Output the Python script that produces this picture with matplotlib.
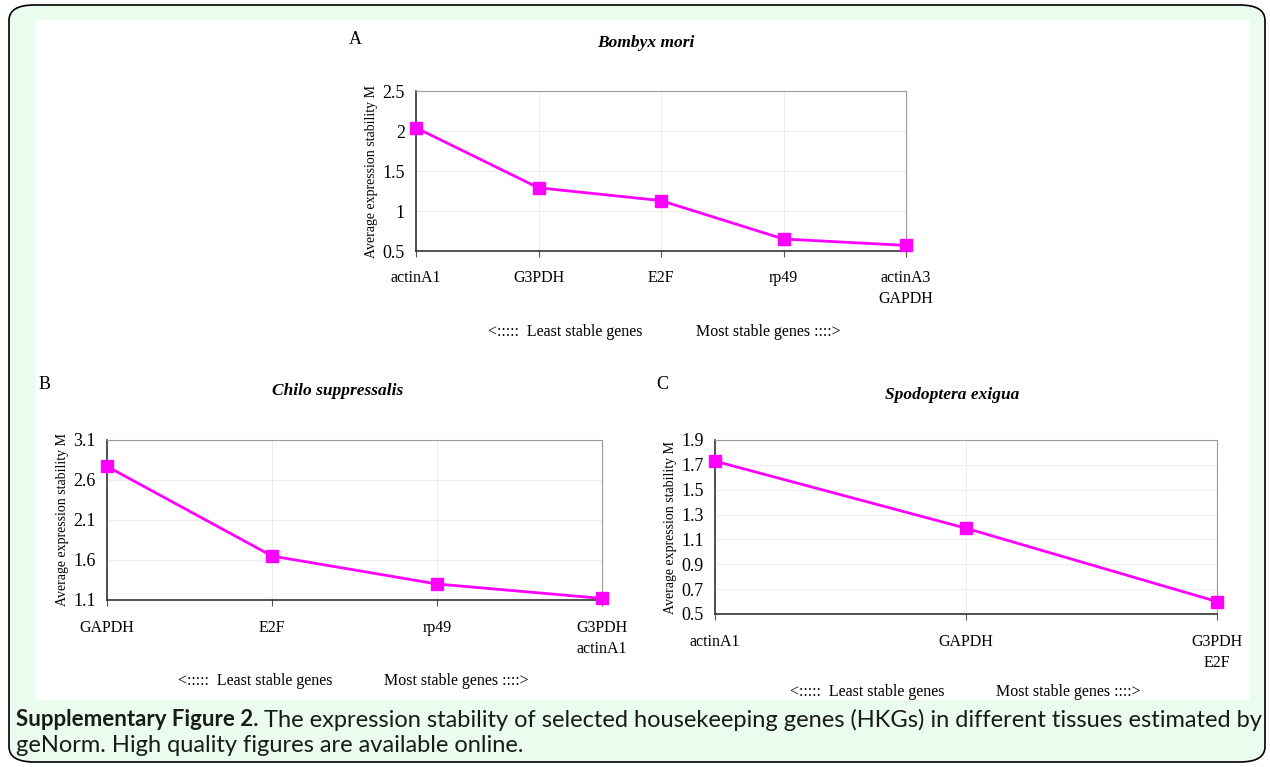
import matplotlib
matplotlib.use("Agg")
import matplotlib.pyplot as plt
from matplotlib.patches import FancyBboxPatch, Rectangle

# data
a_genes = ["actinA1", "G3PDH", "E2F", "rp49", "actinA3\nGAPDH"]
a_m = [2.04, 1.29, 1.13, 0.65, 0.57]
a_ticks = [0.5, 1, 1.5, 2, 2.5]
a_ticklabels = ["0.5", "1", "1.5", "2", "2.5"]

b_genes = ["GAPDH", "E2F", "rp49", "G3PDH\nactinA1"]
b_m = [2.77, 1.65, 1.30, 1.12]
b_ticks = [1.1, 1.6, 2.1, 2.6, 3.1]
b_ticklabels = ["1.1", "1.6", "2.1", "2.6", "3.1"]

c_genes = ["actinA1", "GAPDH", "G3PDH\nE2F"]
c_m = [1.73, 1.19, 0.60]
c_ticks = [0.5, 0.7, 0.9, 1.1, 1.3, 1.5, 1.7, 1.9]
c_ticklabels = ["0.5", "0.7", "0.9", "1.1", "1.3", "1.5", "1.7", "1.9"]

W, H = 1270, 767
SERIF = "Liberation Serif"
MAG = "#ff00ff"

fig = plt.figure(figsize=(W / 100, H / 100), dpi=100)
fig.patch.set_facecolor("white")

# background frame
frame = FancyBboxPatch((9 / W, 1 - 762 / H), 1256 / W, 757 / H,
                       boxstyle="round,pad=0,rounding_size=0.02",
                       transform=fig.transFigure, facecolor="#e9fcee",
                       edgecolor="black", linewidth=1.2, zorder=-3)
fig.patches.append(frame)
fig.patches.append(Rectangle((36 / W, 1 - 700 / H), 1214 / W, 680 / H,
                             transform=fig.transFigure, facecolor="white",
                             edgecolor="none", zorder=-2))


def px(x, y):
    return x / W, 1 - y / H


def panel(box, genes, vals, ticks, ticklabels, title, letter, letter_xy,
          title_xy, label_y, note_y, note_x):
    l, t, r, b = box
    ax = fig.add_axes([l / W, 1 - b / H, (r - l) / W, (b - t) / H])
    x = list(range(len(genes)))
    ax.plot(x, vals, color=MAG, lw=2, marker="s", ms=8, mfc=MAG, mec=MAG,
            clip_on=False, zorder=3)
    ax.set_xlim(0, len(genes) - 1)
    ax.set_ylim(ticks[0], ticks[-1])
    ax.set_yticks(ticks)
    ax.set_yticklabels(ticklabels, fontfamily=SERIF, fontsize=13)
    ax.set_xticks(x)
    ax.set_xticklabels([])
    for i, g in enumerate(genes):
        ax.text(i, -(label_y - b) / (b - t), g,
                transform=ax.get_xaxis_transform(), ha="center", va="top",
                fontfamily=SERIF, fontsize=11.5, linespacing=1.45)
    ax.grid(True, color="#ededed", lw=0.8)
    ax.set_axisbelow(True)
    for s in ["top", "right"]:
        ax.spines[s].set_color("#9a9a9a")
    for s in ["left", "bottom"]:
        ax.spines[s].set_color("#333333")
        ax.spines[s].set_linewidth(1.2)
    ax.tick_params(axis="y", length=0, pad=8)
    ax.tick_params(axis="x", length=4, direction="out", color="#555555")
    ax.set_ylabel("Average expression stability M", fontfamily=SERIF,
                  fontsize=10, labelpad=3)
    fig.text(*px(*title_xy), title, ha="center", va="center",
             fontfamily=SERIF, fontsize=12.5, style="italic",
             weight="bold")
    fig.text(*px(*letter_xy), letter, ha="center", va="center",
             fontfamily=SERIF, fontsize=13)
    fig.text(*px(note_x[0], note_y), "<:::::  Least stable genes",
             ha="center", va="center", fontfamily=SERIF, fontsize=11.5)
    fig.text(*px(note_x[1], note_y), "Most stable genes ::::>",
             ha="center", va="center", fontfamily=SERIF, fontsize=11.5)
    return ax


panel((416, 91, 906, 251), a_genes, a_m, a_ticks, a_ticklabels,
      "Bombyx mori", "A", (355, 39), (646, 43), 270, 332, (565, 768))
panel((107, 440, 602, 600), b_genes, b_m, b_ticks, b_ticklabels,
      "Chilo suppressalis", "B", (45, 384), (338, 391), 620, 681, (255, 456))
panel((715, 440, 1217, 614), c_genes, c_m, c_ticks, c_ticklabels,
      "Spodoptera exigua", "C", (662, 384), (952, 395), 634, 692, (867, 1068))

# caption
cap = dict(va="center", fontfamily="Lato", color="#1a1a1a")
bold = fig.text(*px(16, 720), "Supplementary Figure 2.", ha="left",
                weight="bold", fontsize=16, **cap)
fig.canvas.draw()
bb = bold.get_window_extent()
fig.text((bb.x1 + 5) / W, 1 - 720 / H,
         "The expression stability of selected housekeeping genes (HKGs) in "
         "different tissues estimated by", ha="left", fontsize=17, **cap)
fig.text(*px(16, 745), "geNorm. High quality figures are available online.",
         ha="left", fontsize=17, **cap)

fig.savefig("out.png", dpi=100)
